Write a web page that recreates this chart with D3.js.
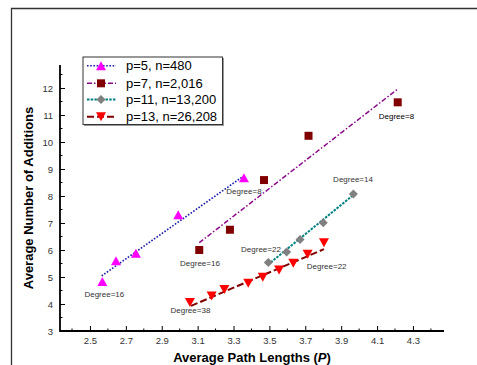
<!DOCTYPE html>
<html><head><meta charset="utf-8">
<script src="https://cdn.jsdelivr.net/npm/d3@7"></script>
<style>
html,body{margin:0;padding:0;background:#fff;}
svg{display:block;font-family:Arial,"Liberation Sans",sans-serif;}
</style></head>
<body><svg id="c" width="477" height="365"></svg>
<script>
// ---- data ----
const seriesNames = ["p=5, n=480", "p=7, n=2,016", "p=11, n=13,200", "p=13, n=26,208"];
const p5X = [2.569, 2.645, 2.756, 2.992, 3.358];
const p5Y = [4.83, 5.60, 5.88, 7.31, 8.68];
const p7X = [3.109, 3.280, 3.470, 3.718, 4.215];
const p7Y = [6.00, 6.75, 8.59, 10.23, 11.47];
const p11X = [3.494, 3.596, 3.671, 3.800, 3.968];
const p11Y = [5.54, 5.93, 6.39, 7.01, 8.07];
const p13X = [3.057, 3.178, 3.249, 3.382, 3.463, 3.554, 3.633, 3.713, 3.804];
const p13Y = [4.06, 4.30, 4.54, 4.77, 4.99, 5.26, 5.51, 5.84, 6.27];
// fitted trend lines [x0, x1], [y0, y1]
const fitX = [[2.565, 3.352], [3.109, 4.213], [3.507, 3.968], [3.063, 3.804]];
const fitY = [[5.04, 8.72], [6.27, 11.95], [5.54, 8.04], [3.93, 6.03]];
const labelText = ["Degree=16", "Degree=8", "Degree=16", "Degree=8", "Degree=22", "Degree=14", "Degree=22", "Degree=38"];
const labelX = [2.58, 3.358, 3.113, 4.208, 3.453, 3.966, 3.819, 3.06];
const labelY = [4.37, 8.20, 5.53, 10.96, 6.03, 8.63, 5.41, 3.78];
const xTicks = [2.5, 2.7, 2.9, 3.1, 3.3, 3.5, 3.7, 3.9, 4.1, 4.3];
const xMinor = [2.4, 2.6, 2.8, 3.0, 3.2, 3.4, 3.6, 3.8, 4.0, 4.2, 4.4];
const yTicks = [3, 4, 5, 6, 7, 8, 9, 10, 11, 12];
const yMinor = [3.5, 4.5, 5.5, 6.5, 7.5, 8.5, 9.5, 10.5, 11.5, 12.5];

// ---- styles ----
const markerColor = ["#ff00ff", "#800000", "#808080", "#ff0000"];
const markerType = ["tri", "square", "diamond", "itri"];
const lineColor = ["#1a1aa8", "#8a0a8a", "#008080", "#800000"];
const lineDash = ["1.6,1.6", "5,2,1.5,2", "2.5,1.2", "7,3"];
const lineW = [1.6, 1.5, 2, 2];

const svg = d3.select("#c");
const x = d3.scaleLinear().domain([2.333, 4.473]).range([60, 444]);
const y = d3.scaleLinear().domain([3, 12.852]).range([331, 65]);

// outer frame
svg.append("path").attr("d", "M11.5,365 V8.5 H477").attr("fill", "none")
  .attr("stroke", "#333").attr("stroke-width", 1.3);

function marker(g, type, cx, cy, color) {
  let d;
  if (type === "tri") { const w = 5, h = 9; d = `M${cx},${cy-h/2}L${cx+w},${cy+h/2}L${cx-w},${cy+h/2}Z`; }
  else if (type === "itri") { const w = 5, h = 9; d = `M${cx},${cy+h/2}L${cx+w},${cy-h/2}L${cx-w},${cy-h/2}Z`; }
  else if (type === "square") { const s = 4; d = `M${cx-s},${cy-s}H${cx+s}V${cy+s}H${cx-s}Z`; }
  else { const s = 4.5; d = `M${cx},${cy-s}L${cx+s},${cy}L${cx},${cy+s}L${cx-s},${cy}Z`; }
  g.append("path").attr("d", d).attr("fill", color);
}

// axes
const xAxis = d3.axisBottom(x).tickValues(xTicks).tickSizeInner(-5).tickSizeOuter(0).tickFormat(d3.format(".1f"));
const gx = svg.append("g").attr("transform", "translate(0,331)").call(xAxis);
gx.select(".domain").remove();
gx.selectAll("line").attr("stroke", "#000").attr("stroke-width", 1);
gx.selectAll("text").attr("y", 6).attr("dy", "0.71em").attr("font-size", 9.5).attr("fill", "#333").attr("font-family", "Arial,'Liberation Sans',sans-serif");
svg.append("g").selectAll("line").data(xMinor).join("line")
  .attr("x1", d => x(d)).attr("x2", d => x(d)).attr("y1", 331).attr("y2", 328.5).attr("stroke", "#000");

const yAxis = d3.axisLeft(y).tickValues(yTicks).tickSizeInner(-5).tickSizeOuter(0).tickFormat(d3.format("d"));
const gy = svg.append("g").attr("transform", "translate(60,0)").call(yAxis);
gy.select(".domain").remove();
gy.selectAll("line").attr("stroke", "#000").attr("stroke-width", 1);
gy.selectAll("text").attr("x", -7).attr("font-size", 9.5).attr("fill", "#333").attr("font-family", "Arial,'Liberation Sans',sans-serif");
svg.append("g").selectAll("line").data(yMinor).join("line")
  .attr("y1", d => y(d)).attr("y2", d => y(d)).attr("x1", 60).attr("x2", 62.5).attr("stroke", "#000");

svg.append("path").attr("d", `M${x.range()[0]},${y.range()[1]} V${y.range()[0]} H${x.range()[1]}`)
  .attr("fill", "none").attr("stroke", "#000").attr("stroke-width", 1.8);

// axis titles
const xt = svg.append("text").attr("x", 252).attr("y", 361.5).attr("text-anchor", "middle")
  .attr("font-size", 13).attr("font-weight", "bold").attr("fill", "#000");
xt.append("tspan").text("Average Path Lengths (");
xt.append("tspan").attr("font-style", "italic").text("P");
xt.append("tspan").text(")");
svg.append("text").attr("transform", "translate(33,198) rotate(-90)").attr("text-anchor", "middle")
  .attr("font-size", 13).attr("font-weight", "bold").attr("fill", "#000").text("Average Number of Additions");

// series
const xs = [p5X, p7X, p11X, p13X], ys = [p5Y, p7Y, p11Y, p13Y];
const plot = svg.append("g");
for (let i = 0; i < 4; i++) {
  plot.append("line").attr("x1", x(fitX[i][0])).attr("x2", x(fitX[i][1]))
    .attr("y1", y(fitY[i][0])).attr("y2", y(fitY[i][1]))
    .attr("stroke", lineColor[i]).attr("stroke-width", lineW[i]).attr("stroke-dasharray", lineDash[i]);
}
for (let i = 0; i < 4; i++) {
  xs[i].forEach((v, j) => marker(plot, markerType[i], x(v), y(ys[i][j]), markerColor[i]));
}

// labels
svg.append("g").selectAll("text").data(labelText).join("text")
  .attr("x", (d, i) => x(labelX[i])).attr("y", (d, i) => y(labelY[i]) + 3)
  .attr("text-anchor", "middle").attr("font-size", 8).attr("fill", (d, i) => i === 3 ? "#000" : "#333")
  .text(d => d);

// legend
const lg = svg.append("g");
lg.append("rect").attr("x", 84).attr("y", 58).attr("width", 140).attr("height", 68).attr("fill", "#999");
lg.append("rect").attr("x", 83).attr("y", 57).attr("width", 139.5).attr("height", 67.5)
  .attr("fill", "#fff").attr("stroke", "#333").attr("stroke-width", 1);
const rowY = [65.7, 83.3, 99.6, 116.7];
seriesNames.forEach((name, i) => {
  lg.append("line").attr("x1", 87).attr("x2", 116).attr("y1", rowY[i]).attr("y2", rowY[i])
    .attr("stroke", lineColor[i]).attr("stroke-width", lineW[i]).attr("stroke-dasharray", lineDash[i]);
  marker(lg, markerType[i], 101, rowY[i], markerColor[i]);
  lg.append("text").attr("x", 126).attr("y", rowY[i] + 4.6).attr("font-size", 13).attr("fill", "#000").text(name);
});
</script></body></html>
